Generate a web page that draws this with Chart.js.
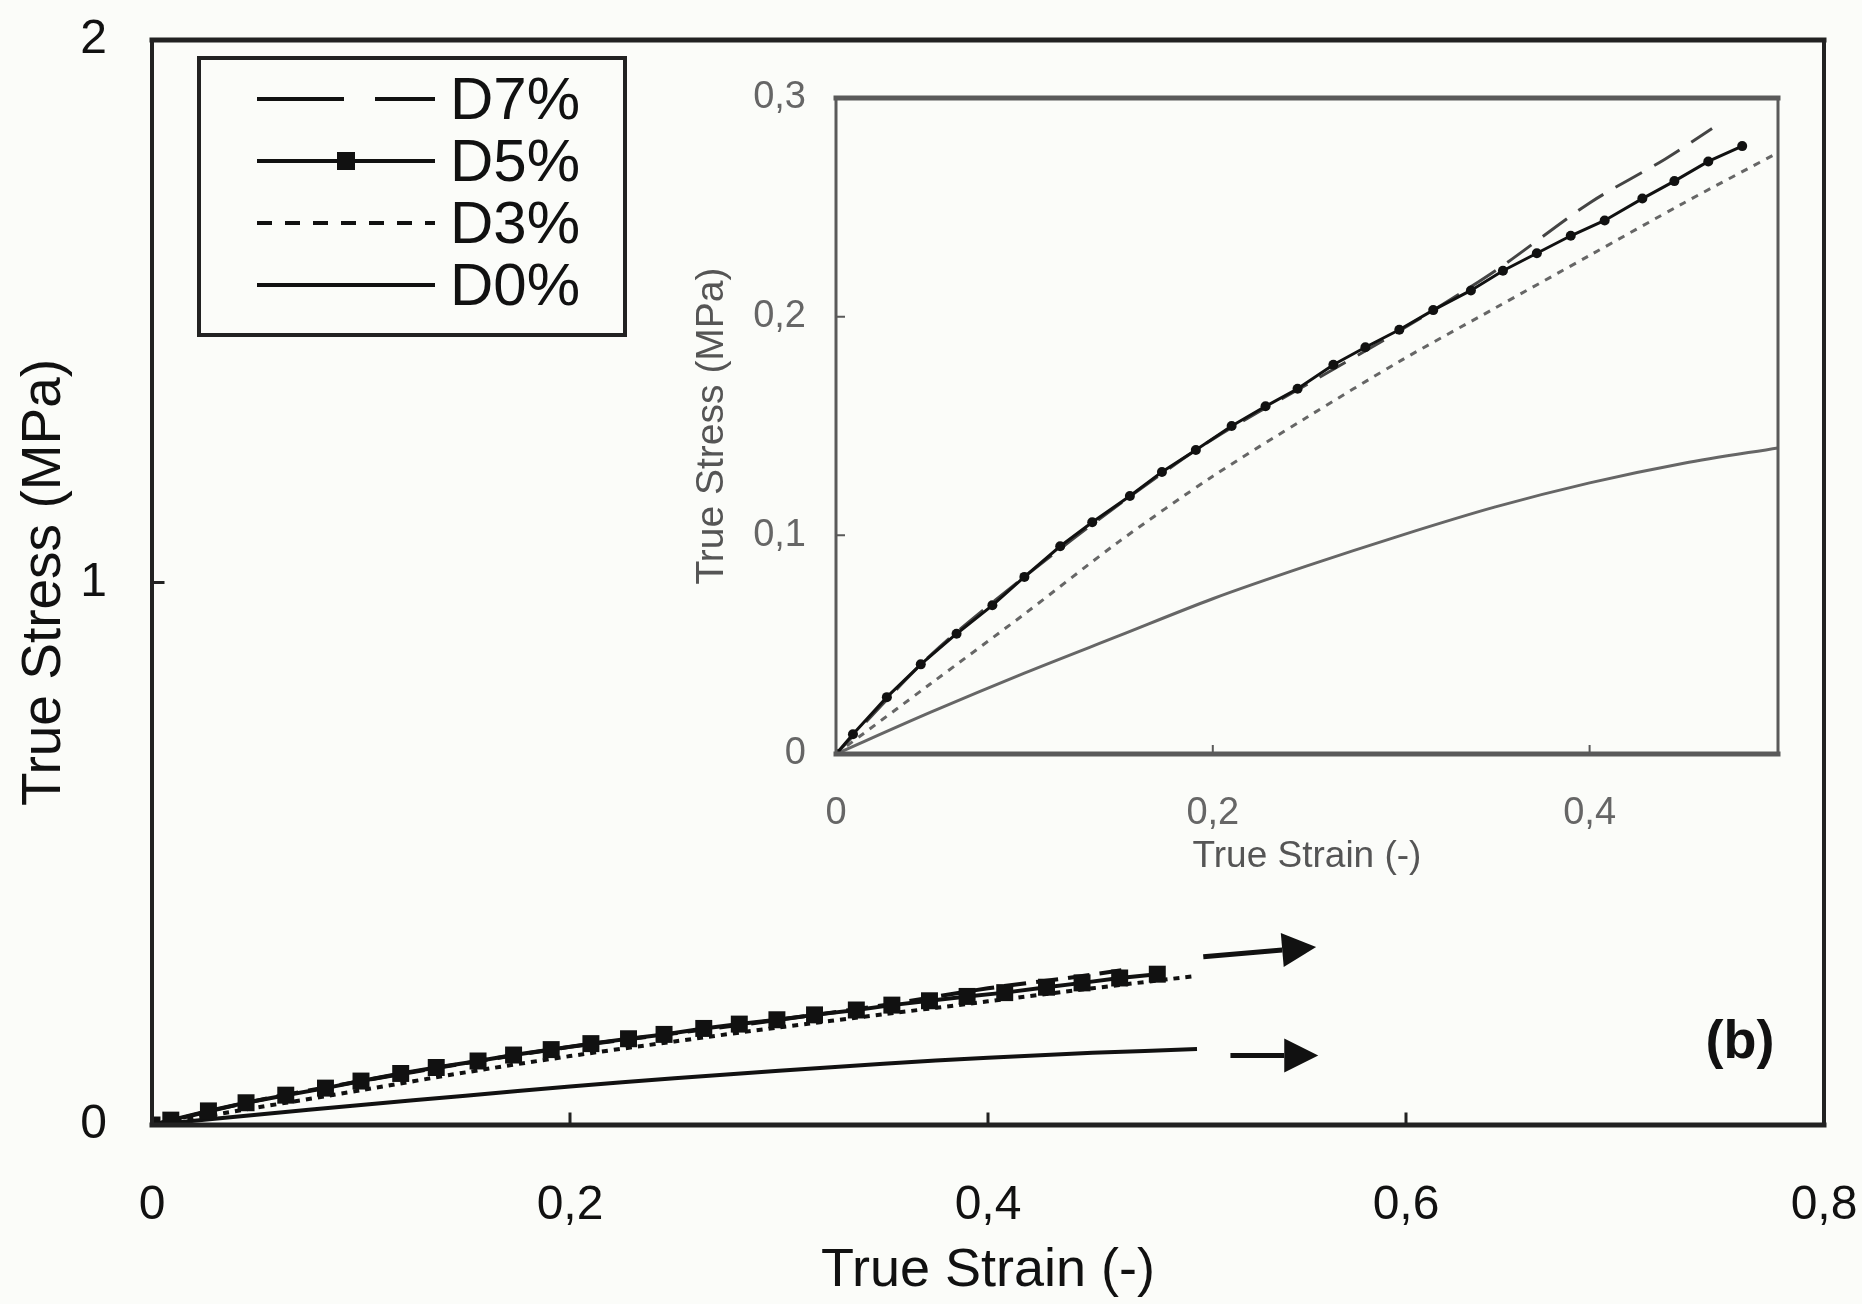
<!DOCTYPE html>
<html>
<head>
<meta charset="utf-8">
<title>True Stress vs True Strain</title>
<script src="https://cdn.jsdelivr.net/npm/chart.js@4.4.1/dist/chart.umd.min.js"></script>
<style>
  html, body { margin: 0; padding: 0; background: #fbfcf9; }
  #wrap { position: relative; width: 1862px; height: 1304px; }
  #mainChart { position: absolute; left: 0; top: 0; }
  #insetChart { position: absolute; left: 680px; top: 60px; }
</style>
</head>
<body>
<div id="wrap">
  <canvas id="mainChart" width="1862" height="1304"></canvas>
  <canvas id="insetChart" width="1120" height="830"></canvas>
</div>
<script>
// series labels (legend order)
const seriesLabels = ['D7%', 'D5%', 'D3%', 'D0%'];

// D7% - long dash
const strainD7 = [0, 0.05, 0.10, 0.15, 0.20, 0.25, 0.30, 0.35, 0.40, 0.44, 0.465];
const stressD7 = [0, 0.045, 0.081, 0.114, 0.144, 0.169, 0.194, 0.221, 0.252, 0.272, 0.286];

// D5% - solid with markers
const strainD5 = [0, 0.009, 0.027, 0.045, 0.064, 0.083, 0.100, 0.119, 0.136, 0.156, 0.173, 0.191, 0.210, 0.228,
                  0.245, 0.264, 0.281, 0.299, 0.317, 0.337, 0.354, 0.372, 0.390, 0.408, 0.428, 0.445, 0.463, 0.481];
const stressD5 = [0, 0.009, 0.026, 0.041, 0.055, 0.068, 0.081, 0.095, 0.106, 0.118, 0.129, 0.139, 0.150, 0.159,
                  0.167, 0.178, 0.186, 0.194, 0.203, 0.212, 0.221, 0.229, 0.237, 0.244, 0.254, 0.262, 0.271, 0.278];

// D3% - dotted
const strainD3 = [0, 0.05, 0.10, 0.15, 0.20, 0.25, 0.30, 0.35, 0.40, 0.45, 0.50];
const stressD3 = [0, 0.032, 0.064, 0.097, 0.127, 0.154, 0.180, 0.204, 0.228, 0.252, 0.275];

// D0% - solid
const strainD0 = [0, 0.05, 0.10, 0.15, 0.20, 0.25, 0.30, 0.35, 0.40, 0.45, 0.50];
const stressD0 = [0, 0.019, 0.037, 0.054, 0.071, 0.086, 0.100, 0.113, 0.124, 0.133, 0.140];

// tick values
const mainXTicks = [0, 0.2, 0.4, 0.6, 0.8];
const mainYTicks = [0, 1, 2];
const insetXTicks = [0, 0.2, 0.4];
const insetYTicks = [0, 0.1, 0.2, 0.3];

// arrows on main plot (data units)
const arrowFrom = [[0.503, 0.310], [0.516, 0.128]];
const arrowTo = [[0.557, 0.328], [0.558, 0.128]];

Chart.defaults.font.family = '"Liberation Sans", Arial, sans-serif';
Chart.defaults.color = '#111';

function toPoints(xs, ys) {
    return xs.map((x, i) => ({ x: x, y: ys[i] }));
}

function commaFmt(v) {
    if (v === 0) return '0';
    return String(Math.round(v * 10) / 10).replace('.', ',');
}

// fixed axis box, no extra room for overhanging labels
function fixBox(size) {
    return s => {
        if (s.isHorizontal()) s.height = size; else s.width = size;
        s.paddingLeft = 0; s.paddingRight = 0; s.paddingTop = 0; s.paddingBottom = 0;
    };
}

// frame around the plot area plus small inward ticks
const framePlugin = {
    id: 'frame',
    afterDatasetsDraw(chart, args, opts) {
        const { ctx, chartArea: a, scales } = chart;
        ctx.save();
        ctx.strokeStyle = opts.color;
        ctx.lineCap = 'square';
        ctx.lineWidth = opts.hWidth;
        ctx.beginPath();
        ctx.moveTo(a.left, a.top); ctx.lineTo(a.right, a.top);
        ctx.moveTo(a.left, a.bottom); ctx.lineTo(a.right, a.bottom);
        ctx.stroke();
        ctx.lineWidth = opts.vWidth;
        ctx.beginPath();
        ctx.moveTo(a.left, a.top); ctx.lineTo(a.left, a.bottom);
        ctx.moveTo(a.right, a.top); ctx.lineTo(a.right, a.bottom);
        ctx.stroke();
        ctx.lineWidth = opts.tickWidth;
        ctx.beginPath();
        opts.xTicks.forEach(v => {
            const px = scales.x.getPixelForValue(v);
            ctx.moveTo(px, a.bottom); ctx.lineTo(px, a.bottom - opts.tickLen);
        });
        opts.yTicks.forEach(v => {
            const py = scales.y.getPixelForValue(v);
            ctx.moveTo(a.left, py); ctx.lineTo(a.left + opts.tickLen, py);
        });
        ctx.stroke();
        ctx.restore();
    }
};

// boxed legend in the upper left corner
const legendPlugin = {
    id: 'boxLegend',
    afterDraw(chart, args, opts) {
        const ctx = chart.ctx;
        ctx.save();
        ctx.strokeStyle = '#222';
        ctx.lineWidth = 4;
        ctx.strokeRect(opts.left, opts.top, opts.width, opts.height);
        ctx.font = opts.font;
        ctx.fillStyle = '#111';
        ctx.textBaseline = 'middle';
        ctx.textAlign = 'left';
        opts.items.forEach((it, i) => {
            const y = opts.firstRow + i * opts.rowGap;
            ctx.strokeStyle = '#111';
            ctx.lineWidth = 4;
            ctx.lineCap = 'butt';
            ctx.setLineDash(it.dash);
            ctx.beginPath();
            ctx.moveTo(opts.lineX0, y);
            ctx.lineTo(opts.lineX1, y);
            ctx.stroke();
            ctx.setLineDash([]);
            if (it.marker) {
                const mx = (opts.lineX0 + opts.lineX1) / 2;
                ctx.fillRect(mx - 9, y - 9, 18, 18);
            }
            ctx.fillText(seriesLabels[i], opts.textX, y + 3);
        });
        ctx.restore();
    }
};

// arrows and panel tag
const notesPlugin = {
    id: 'notes',
    afterDraw(chart) {
        const { ctx, scales, chartArea: a } = chart;
        ctx.save();
        ctx.strokeStyle = '#111';
        ctx.fillStyle = '#111';
        arrowFrom.forEach((f, i) => {
            const t = arrowTo[i];
            const x0 = scales.x.getPixelForValue(f[0]), y0 = scales.y.getPixelForValue(f[1]);
            const x1 = scales.x.getPixelForValue(t[0]), y1 = scales.y.getPixelForValue(t[1]);
            const ang = Math.atan2(y1 - y0, x1 - x0);
            const headLen = 34, headHalf = 17;
            const bx = x1 - headLen * Math.cos(ang), by = y1 - headLen * Math.sin(ang);
            ctx.lineWidth = 5;
            ctx.beginPath();
            ctx.moveTo(x0, y0);
            ctx.lineTo(bx, by);
            ctx.stroke();
            ctx.beginPath();
            ctx.moveTo(x1, y1);
            ctx.lineTo(bx - headHalf * Math.sin(ang), by + headHalf * Math.cos(ang));
            ctx.lineTo(bx + headHalf * Math.sin(ang), by - headHalf * Math.cos(ang));
            ctx.closePath();
            ctx.fill();
        });
        ctx.font = 'bold 54px "Liberation Sans", Arial, sans-serif';
        ctx.textAlign = 'center';
        ctx.textBaseline = 'middle';
        ctx.fillText('(b)', a.right - 84, a.bottom - 82);
        ctx.restore();
    }
};

const mainCtx = document.getElementById('mainChart').getContext('2d');
new Chart(mainCtx, {
    type: 'line',
    data: {
        datasets: [
            {
                label: seriesLabels[1],
                data: toPoints(strainD5, stressD5),
                borderColor: '#111', backgroundColor: '#111', borderWidth: 4,
                pointStyle: 'rect', pointRadius: 12, pointBorderWidth: 0
            },
            {
                label: seriesLabels[0],
                data: toPoints(strainD7, stressD7),
                borderColor: '#111', borderWidth: 4, borderDash: [22, 10],
                pointRadius: 0, tension: 0.3
            },
            {
                label: seriesLabels[2],
                data: toPoints(strainD3, stressD3),
                borderColor: '#111', borderWidth: 4, borderDash: [6, 6],
                pointRadius: 0, tension: 0.3
            },
            {
                label: seriesLabels[3],
                data: toPoints(strainD0, stressD0),
                borderColor: '#111', borderWidth: 4,
                pointRadius: 0, tension: 0.3
            }
        ]
    },
    options: {
        responsive: false,
        animation: false,
        layout: { padding: { top: 40, right: 38, bottom: 0, left: 0 } },
        plugins: {
            legend: { display: false },
            tooltip: { enabled: false },
            frame: { color: '#222', hWidth: 5, vWidth: 4, tickWidth: 3, tickLen: 11, xTicks: [0.2, 0.4, 0.6], yTicks: [1] },
            boxLegend: {
                left: 199, top: 58, width: 426, height: 277,
                lineX0: 257, lineX1: 435, textX: 450,
                firstRow: 99, rowGap: 62,
                font: '60px "Liberation Sans", Arial, sans-serif',
                items: [
                    { dash: [87, 31] },
                    { dash: [], marker: true },
                    { dash: [15, 13] },
                    { dash: [] }
                ]
            }
        },
        scales: {
            x: {
                type: 'linear', min: 0, max: 0.8,
                afterBuildTicks: s => { s.ticks = mainXTicks.map(v => ({ value: v })); },
                ticks: { padding: 52, font: { size: 48 }, color: '#111', callback: commaFmt },
                grid: { display: false, drawTicks: false },
                border: { display: false },
                title: { display: true, text: 'True Strain (-)', font: { size: 54 }, color: '#111', padding: { top: 0, bottom: 0 } },
                afterFit: fixBox(1304 - 1125)
            },
            y: {
                type: 'linear', min: 0, max: 2,
                afterBuildTicks: s => { s.ticks = mainYTicks.map(v => ({ value: v })); },
                ticks: { padding: 45, font: { size: 48 }, color: '#111', callback: commaFmt },
                grid: { display: false, drawTicks: false },
                border: { display: false },
                title: { display: true, text: 'True Stress (MPa)', font: { size: 55 }, color: '#111', padding: { top: 12, bottom: 0 } },
                afterFit: fixBox(152)
            }
        }
    },
    plugins: [framePlugin, legendPlugin, notesPlugin]
});

const insetCtx = document.getElementById('insetChart').getContext('2d');
new Chart(insetCtx, {
    type: 'line',
    data: {
        datasets: [
            {
                label: seriesLabels[1],
                data: toPoints(strainD5, stressD5),
                borderColor: '#111', backgroundColor: '#111', borderWidth: 3,
                pointStyle: 'circle', pointRadius: 5, pointBorderWidth: 0
            },
            {
                label: seriesLabels[0],
                data: toPoints(strainD7, stressD7),
                borderColor: '#444', borderWidth: 3, borderDash: [30, 14],
                pointRadius: 0, tension: 0.3
            },
            {
                label: seriesLabels[2],
                data: toPoints(strainD3, stressD3),
                borderColor: '#666', borderWidth: 3, borderDash: [7, 7],
                pointRadius: 0, tension: 0.3
            },
            {
                label: seriesLabels[3],
                data: toPoints(strainD0, stressD0),
                borderColor: '#666', borderWidth: 3,
                pointRadius: 0, tension: 0.3
            }
        ]
    },
    options: {
        responsive: false,
        animation: false,
        layout: { padding: { top: 38, right: 22, bottom: 0, left: 0 } },
        plugins: {
            legend: { display: false },
            tooltip: { enabled: false },
            frame: { color: '#5a5a5a', hWidth: 5, vWidth: 3, tickWidth: 2, tickLen: 8, xTicks: [0.2, 0.4], yTicks: [0.1, 0.2] }
        },
        scales: {
            x: {
                type: 'linear', min: 0, max: 0.5,
                afterBuildTicks: s => { s.ticks = insetXTicks.map(v => ({ value: v })); },
                ticks: { padding: 37, font: { size: 38 }, color: '#666', callback: commaFmt },
                grid: { display: false, drawTicks: false },
                border: { display: false },
                title: { display: true, text: 'True Strain (-)', font: { size: 37 }, color: '#555', padding: { top: 0, bottom: 11 } },
                afterFit: fixBox(830 - 694)
            },
            y: {
                type: 'linear', min: 0, max: 0.3,
                afterBuildTicks: s => { s.ticks = insetYTicks.map(v => ({ value: v })); },
                ticks: { padding: 30, font: { size: 38 }, color: '#666', callback: commaFmt },
                grid: { display: false, drawTicks: false },
                border: { display: false },
                title: { display: true, text: 'True Stress (MPa)', font: { size: 39 }, color: '#555', padding: { top: 9, bottom: 0 } },
                afterFit: fixBox(156)
            }
        }
    },
    plugins: [framePlugin]
});
</script>
</body>
</html>
